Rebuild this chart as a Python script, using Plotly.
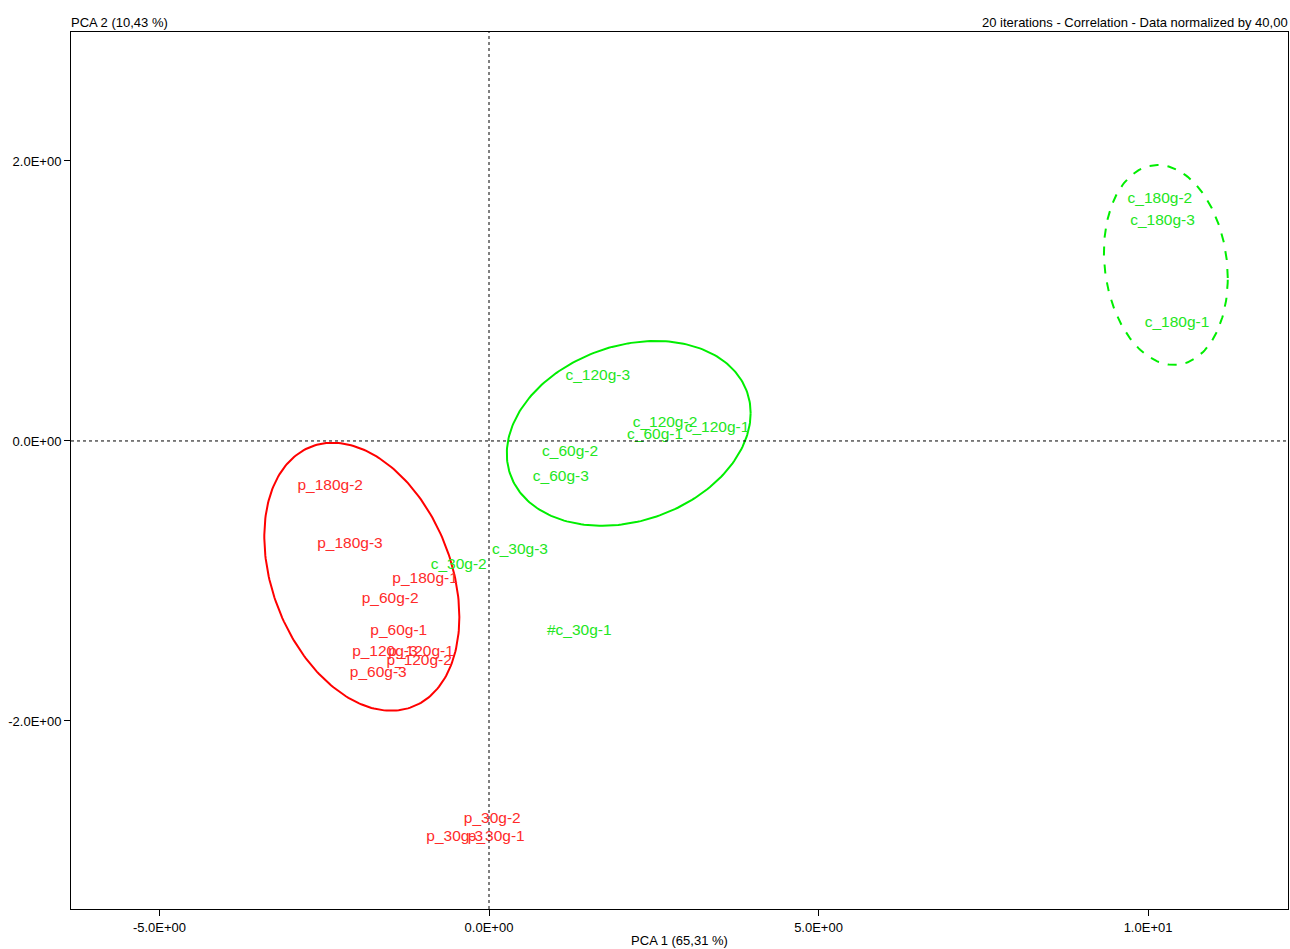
import numpy as np
import plotly.graph_objects as go

# Sample scores on the first two principal components
p_labels = ["p_180g-2", "p_180g-3", "p_180g-1", "p_60g-2", "p_60g-1",
            "p_120g-3", "p_120g-1", "p_120g-2", "p_60g-3",
            "p_30g-2", "p_30g-3", "p_30g-1"]
p_pc1 = [-2.41, -2.11, -0.97, -1.50, -1.37, -1.58, -1.03, -1.06, -1.68, 0.05, -0.52, 0.11]
p_pc2 = [-0.32, -0.74, -0.99, -1.13, -1.36, -1.51, -1.51, -1.57, -1.66, -2.70, -2.83, -2.83]

c_labels = ["c_180g-2", "c_180g-3", "c_180g-1", "c_120g-3", "c_120g-2",
            "c_60g-1", "c_120g-1", "c_60g-2", "c_60g-3",
            "c_30g-3", "c_30g-2", "#c_30g-1"]
c_pc1 = [10.18, 10.22, 10.44, 1.65, 2.67, 2.52, 3.46, 1.23, 1.09, 0.47, -0.46, 1.37]
c_pc2 = [1.73, 1.57, 0.84, 0.46, 0.13, 0.04, 0.09, -0.08, -0.26, -0.78, -0.89, -1.36]

# Group ellipses: centre x, centre y, radius x, radius y, correlation
ell_p = (-1.93, -0.97, 1.48, 0.957, -0.30)
ell_c = (2.12, 0.054, 1.85, 0.66, 0.22)
ell_c180 = (10.27, 1.257, 0.94, 0.714, -0.13)

x_ticks = [-5, 0, 5, 10]
x_ticktext = ["-5.0E+00", "0.0E+00", "5.0E+00", "1.0E+01"]
y_ticks = [-2, 0, 2]
y_ticktext = ["-2.0E+00", "0.0E+00", "2.0E+00"]

RED_TXT, RED_LINE = "#ff2a2a", "#ff0000"
GRN_TXT, GRN_LINE = "#22e622", "#00ee00"
FONT = "Liberation Sans"


def ellipse(cx, cy, rx, ry, rho, n=240):
    t = np.linspace(0, 2 * np.pi, n)
    x = cx + rx * np.cos(t)
    y = cy + ry * (rho * np.cos(t) + np.sqrt(1 - rho ** 2) * np.sin(t))
    return x, y


fig = go.Figure()

for params, color, dash in [(ell_p, RED_LINE, "solid"),
                            (ell_c, GRN_LINE, "solid"),
                            (ell_c180, GRN_LINE, "dash")]:
    ex, ey = ellipse(*params)
    fig.add_trace(go.Scatter(x=ex, y=ey, mode="lines", hoverinfo="skip",
                             line=dict(color=color, width=2, dash=dash),
                             showlegend=False))

fig.add_trace(go.Scatter(x=p_pc1, y=p_pc2, mode="text", text=p_labels,
                         textposition="middle center",
                         textfont=dict(family=FONT, size=15.5, color=RED_TXT),
                         showlegend=False))
fig.add_trace(go.Scatter(x=c_pc1, y=c_pc2, mode="text", text=c_labels,
                         textposition="middle center",
                         textfont=dict(family=FONT, size=15.5, color=GRN_TXT),
                         showlegend=False))

# Dashed origin lines
fig.add_shape(type="line", xref="x", yref="paper", x0=0, x1=0, y0=0, y1=1,
              line=dict(color="black", width=1, dash="3px,3px"))
fig.add_shape(type="line", xref="paper", yref="y", x0=0, x1=1, y0=0, y1=0,
              line=dict(color="black", width=1, dash="3px,3px"))

fig.add_annotation(text="PCA 2 (10,43 %)", xref="paper", yref="paper",
                   x=0, y=1, xanchor="left", yanchor="bottom", xshift=-2,
                   showarrow=False, font=dict(family=FONT, size=13, color="black"))
fig.add_annotation(text="20 iterations - Correlation - Data normalized by 40,00",
                   xref="paper", yref="paper", x=1, y=1, xanchor="right",
                   yanchor="bottom", xshift=2, showarrow=False,
                   font=dict(family=FONT, size=13, color="black"))

fig.update_xaxes(range=[-6.343, 12.124], tickvals=x_ticks, ticktext=x_ticktext,
                 ticks="outside", ticklen=6, tickcolor="black", showgrid=False,
                 zeroline=False, showline=True, linecolor="black", linewidth=1,
                 mirror=True, tickfont=dict(family=FONT, size=13, color="black"),
                 title=dict(text="PCA 1 (65,31 %)", standoff=2,
                            font=dict(family=FONT, size=13, color="black")))
fig.update_yaxes(range=[-3.343, 2.921], tickvals=y_ticks, ticktext=y_ticktext,
                 ticks="outside", ticklen=6, tickcolor="black", showgrid=False,
                 zeroline=False, showline=True, linecolor="black", linewidth=1,
                 mirror=True, tickfont=dict(family=FONT, size=13, color="black"))

fig.update_layout(width=1290, height=949,
                  margin=dict(l=71, r=2, t=32, b=40),
                  plot_bgcolor="white", paper_bgcolor="white")

fig.write_html("out.html")
